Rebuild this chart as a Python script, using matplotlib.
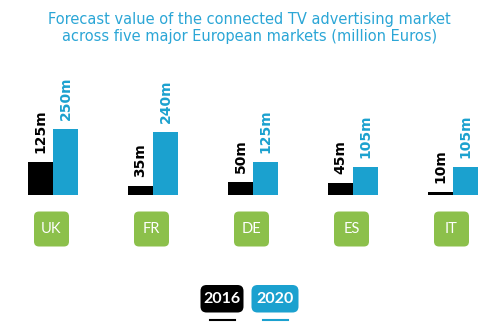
import numpy as np
import matplotlib
matplotlib.use('Agg')
import matplotlib.pyplot as plt
from matplotlib.patches import FancyBboxPatch
from matplotlib.transforms import IdentityTransform

countries = ['UK', 'FR', 'DE', 'ES', 'IT']
values_2016 = [125, 35, 50, 45, 10]
values_2020 = [250, 240, 125, 105, 105]
years = ['2016', '2020']

BLACK = '#000000'
BLUE = '#1ba1cf'
GREEN = '#8cc04b'
TITLE_BLUE = '#2ba6d6'
FONT = 'Lato'

W, H = 503, 331
fig = plt.figure(figsize=(W / 100, H / 100), dpi=100)
fig.patch.set_facecolor('white')

fig.text(0.496, 1 - 28 / H,
         'Forecast value of the connected TV advertising market\n'
         'across five major European markets (million Euros)',
         ha='center', va='center', color=TITLE_BLUE, fontsize=10.5,
         family='DejaVu Sans', linespacing=1.1)

# bar area: baseline sits 136px above the bottom edge
ax = fig.add_axes([3 / W, 136 / H, 500 / W, 150 / H])
x = np.arange(len(countries))
w = 0.25
ax.bar(x - w / 2, values_2016, width=w, color=BLACK)
ax.bar(x + w / 2, values_2020, width=w, color=BLUE)
ax.set_xlim(-0.5, len(countries) - 0.5)
ax.set_ylim(0, 150 / 0.264)
ax.axis('off')

for xi, v in zip(x, values_2016):
    ax.annotate(f'{v}m', xy=(xi - w / 2, v), xytext=(0, 9),
                textcoords='offset pixels', rotation=90, ha='center',
                va='bottom', fontsize=10, fontweight='bold',
                family='DejaVu Sans', color=BLACK)
for xi, v in zip(x, values_2020):
    ax.annotate(f'{v}m', xy=(xi + w / 2, v), xytext=(0, 9),
                textcoords='offset pixels', rotation=90, ha='center',
                va='bottom', fontsize=10, fontweight='bold',
                family='DejaVu Sans', color=BLUE)

# country tags under each group
px = IdentityTransform()
for xi, name in zip(x, countries):
    cx = ax.transData.transform((xi, 0))[0] - 1.5
    cy = 102
    box = FancyBboxPatch((cx - 17.5, cy - 17.5), 35, 35,
                         boxstyle='round,pad=0,rounding_size=5',
                         facecolor=GREEN, edgecolor='none', transform=px)
    fig.add_artist(box)
    fig.text(cx, cy, name, transform=px, ha='center', va='center',
             color='white', fontsize=10.5, family=FONT)

# year legend
legend_x = [222, 275]
legend_w = [43, 47]
for label, lx, lw, col in zip(years, legend_x, legend_w, [BLACK, BLUE]):
    box = FancyBboxPatch((lx - lw / 2, 18.5), lw, 27.5,
                         boxstyle='round,pad=0,rounding_size=6',
                         facecolor=col, edgecolor='none', transform=px)
    fig.add_artist(box)
    fig.text(lx, 32, label, transform=px, ha='center', va='center',
             color='white', fontsize=11.5, fontweight='bold', family=FONT)
    fig.add_artist(plt.Line2D([lx - 12.5, lx + 12.5], [11, 11],
                              color=col, linewidth=1.5, transform=px))

fig.savefig('out.png', dpi=100)
